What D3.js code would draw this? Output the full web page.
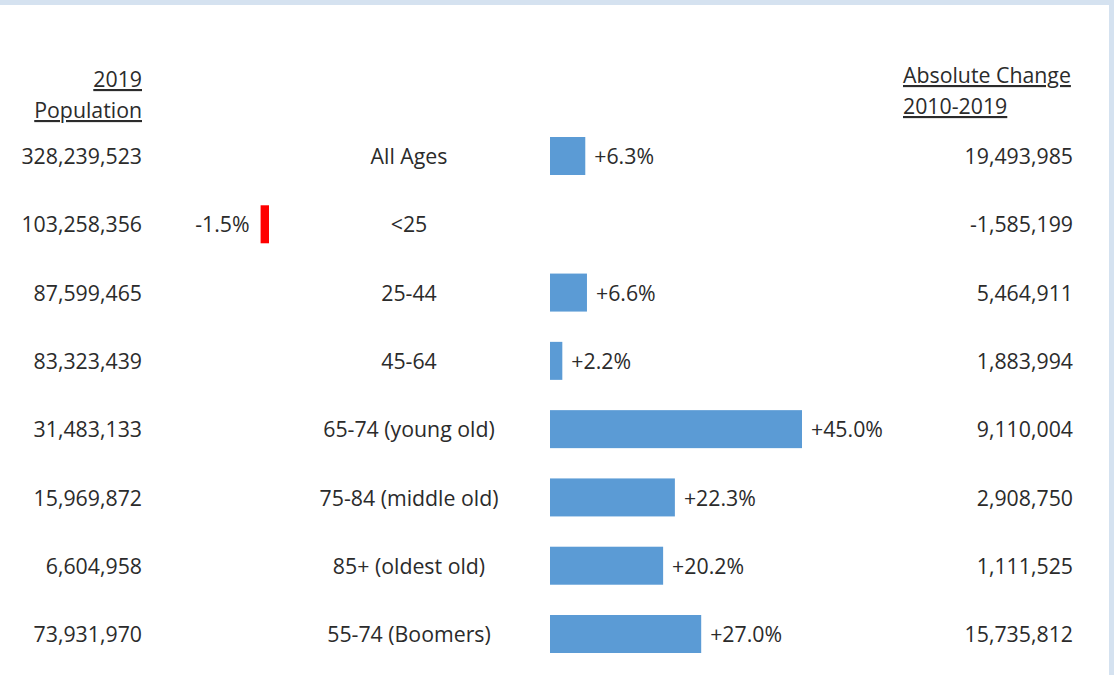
<!DOCTYPE html>
<meta charset="utf-8">
<head>
    <script src="https://d3js.org/d3.v7.min.js"></script>
    <style>
        body { margin: 0; background: white; }
        text { font-family: "Open Sans", sans-serif; fill: #2b2b2b; }
    </style>
</head>
<body>
    <div id="chart"></div>
    <script>
        var groups = ["All Ages", "<25", "25-44", "45-64", "65-74 (young old)", "75-84 (middle old)", "85+ (oldest old)", "55-74 (Boomers)"];
        var population = ["328,239,523", "103,258,356", "87,599,465", "83,323,439", "31,483,133", "15,969,872", "6,604,958", "73,931,970"];
        var pctChange = [6.3, -1.5, 6.6, 2.2, 45.0, 22.3, 20.2, 27.0];
        var absChange = ["19,493,985", "-1,585,199", "5,464,911", "1,883,994", "9,110,004", "2,908,750", "1,111,525", "15,735,812"];

        var width = 1114, height = 675;
        var fontSize = 21.3;

        var svg = d3.select("#chart").append("svg")
            .attr("width", width)
            .attr("height", height);

        // light blue frame (top and right)
        svg.append("rect").attr("x", 0).attr("y", 0).attr("width", width).attr("height", 5).attr("fill", "#d5e2f0");
        svg.append("rect").attr("x", 1109).attr("y", 0).attr("width", 5).attr("height", height).attr("fill", "#d5e2f0");

        var y = d3.scalePoint()
            .domain(groups)
            .range([156, 634]);

        // positive bars grow right from 550, negative bars grow left from 269
        var xPos = d3.scaleLinear().domain([0, 45]).range([550, 802]);
        var xNeg = d3.scaleLinear().domain([0, 45]).range([269, 17]);
        var barH = 38;

        // headers
        var hdr = svg.append("g").style("font-size", fontSize + "px");
        hdr.append("text").attr("x", 142).attr("y", 87).attr("text-anchor", "end")
            .style("text-decoration", "underline").text("2019");
        hdr.append("text").attr("x", 142).attr("y", 118).attr("text-anchor", "end")
            .style("text-decoration", "underline").text("Population");
        hdr.append("text").attr("x", 903).attr("y", 83).attr("text-anchor", "start")
            .style("text-decoration", "underline").text("Absolute Change");
        hdr.append("text").attr("x", 903).attr("y", 114).attr("text-anchor", "start")
            .style("text-decoration", "underline").text("2010-2019");

        var rows = svg.append("g").selectAll("g")
            .data(groups)
            .enter().append("g")
            .style("font-size", fontSize + "px");

        rows.append("text")
            .attr("x", 142)
            .attr("y", function(d) { return y(d); })
            .attr("dy", "0.38em")
            .attr("text-anchor", "end")
            .text(function(d, i) { return population[i]; });

        rows.append("text")
            .attr("x", 409)
            .attr("y", function(d) { return y(d); })
            .attr("dy", "0.38em")
            .attr("text-anchor", "middle")
            .text(function(d) { return d; });

        rows.append("text")
            .attr("x", 1073)
            .attr("y", function(d) { return y(d); })
            .attr("dy", "0.38em")
            .attr("text-anchor", "end")
            .text(function(d, i) { return absChange[i]; });

        // bars
        rows.append("rect")
            .attr("x", function(d, i) {
                var v = pctChange[i];
                return v >= 0 ? xPos(0) : xNeg(-v);
            })
            .attr("y", function(d) { return y(d) - barH / 2; })
            .attr("width", function(d, i) {
                var v = pctChange[i];
                return v >= 0 ? xPos(v) - xPos(0) : xNeg(0) - xNeg(-v);
            })
            .attr("height", barH)
            .attr("fill", function(d, i) { return pctChange[i] >= 0 ? "#5b9bd5" : "#ff0000"; });

        // percent labels
        rows.append("text")
            .attr("x", function(d, i) {
                var v = pctChange[i];
                return v >= 0 ? xPos(v) + 9 : xNeg(-v) - 11;
            })
            .attr("y", function(d) { return y(d); })
            .attr("dy", "0.38em")
            .attr("text-anchor", function(d, i) { return pctChange[i] >= 0 ? "start" : "end"; })
            .text(function(d, i) {
                var v = pctChange[i];
                return (v >= 0 ? "+" : "") + v.toFixed(1) + "%";
            });
    </script>
</body>
</html>
